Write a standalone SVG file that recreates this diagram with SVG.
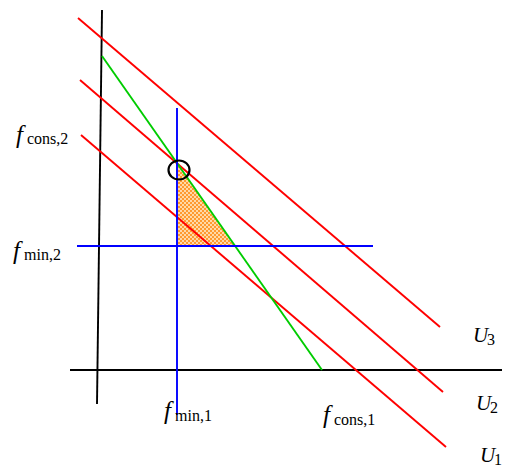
<svg xmlns="http://www.w3.org/2000/svg" width="506" height="469" viewBox="0 0 506 469">
<style>
.ln{fill:none;stroke-width:1.9}
.r{stroke:#ff0000}
.b{stroke:#0000ff}
.g{stroke:#00cc00}
.k{stroke:#000000}
.f{font-family:"Liberation Serif",serif;font-style:italic;font-size:25px;fill:#000}
.s{font-family:"Liberation Serif",serif;font-size:16px;fill:#000}
.u{font-family:"Liberation Serif",serif;font-style:italic;font-size:21px;fill:#000}
</style>
<defs>
<pattern id="chk" width="4" height="4" patternUnits="userSpaceOnUse">
<rect width="4" height="4" fill="#ffd9a8"/>
<rect width="2" height="2" fill="#ff9a30"/>
<rect x="2" y="2" width="2" height="2" fill="#ff9a30"/>
</pattern>
</defs>
<g id="region">
<polygon points="178,165 178,246 235,246" fill="url(#chk)"/>
</g>
<g id="connectors">
<line class="ln k" x1="102" y1="10" x2="97" y2="404"/>
<line class="ln k" x1="70" y1="370" x2="502" y2="370"/>
<line class="ln r" x1="78" y1="18" x2="440" y2="327"/>
<line class="ln r" x1="80" y1="80" x2="443" y2="392"/>
<line class="ln r" x1="81" y1="135" x2="446" y2="447"/>
<line class="ln g" x1="102" y1="56" x2="322" y2="370"/>
<line class="ln b" x1="177" y1="108" x2="177" y2="415"/>
<line class="ln b" x1="77" y1="246" x2="373" y2="246"/>
</g>
<g id="optimum">
<ellipse cx="179" cy="170" rx="10.5" ry="9.5" fill="none" stroke="#000" stroke-width="2.2"/>
</g>
<g id="labels">
<text class="f" x="16" y="143">f</text><text class="s" x="27" y="144">cons,2</text>
<text class="f" x="13" y="259">f</text><text class="s" x="24" y="260">min,2</text>
<text class="f" x="164" y="419">f</text><text class="s" x="175" y="421">min,1</text>
<text class="f" x="323" y="423">f</text><text class="s" x="334" y="425">cons,1</text>
<text class="u" x="473" y="342">U</text><text class="s" x="487" y="345">3</text>
<text class="u" x="476" y="410">U</text><text class="s" x="490" y="413">2</text>
<text class="u" x="480" y="462">U</text><text class="s" x="494" y="465">1</text>
</g>
</svg>
